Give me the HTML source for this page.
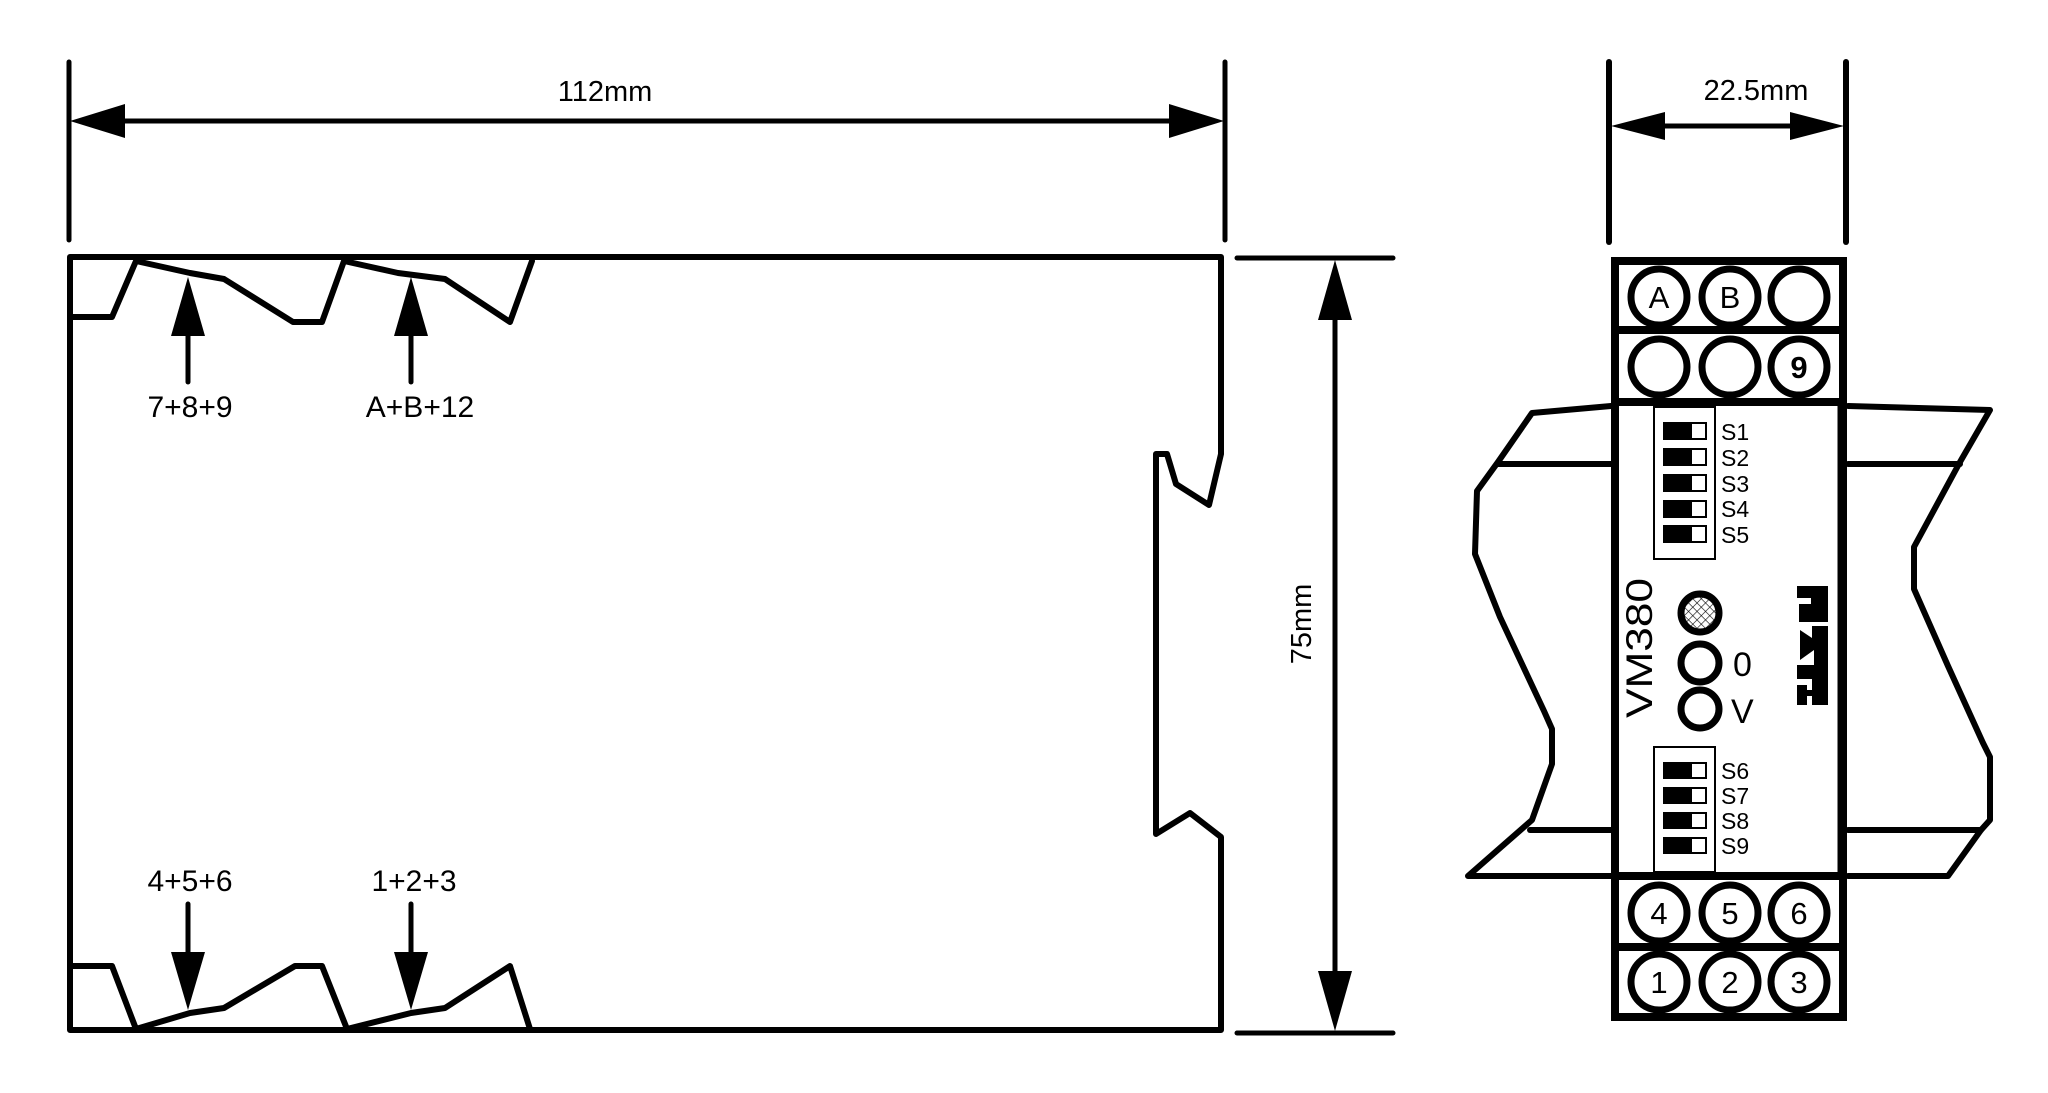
<!DOCTYPE html>
<html><head><meta charset="utf-8"><style>html,body{margin:0;padding:0;background:#fff}svg{display:block}</style></head>
<body>
<svg width="2048" height="1093" viewBox="0 0 2048 1093" xmlns="http://www.w3.org/2000/svg" font-family="Liberation Sans, sans-serif">
<defs>
<pattern id="h" width="6" height="6" patternUnits="userSpaceOnUse" patternTransform="rotate(45)">
<rect width="6" height="6" fill="#fff"/><path d="M0 0H6M0 0V6" stroke="#000" stroke-width="1.2"/></pattern>
</defs>
<g stroke="#000" fill="none" stroke-linecap="round" stroke-linejoin="round">
<line x1="69" y1="62" x2="69" y2="240" stroke-width="5"/>
<line x1="1225" y1="62" x2="1225" y2="240" stroke-width="5"/>
<line x1="120" y1="121" x2="1175" y2="121" stroke-width="5"/>
<path d="M70 257 H1221 V454 L1209 505 L1176 484 L1167 454 H1156 V834 L1190 813 L1221 837 V1030 H70 Z" stroke-width="6"/>
<path d="M72 317 H112 L136 261 L190 273 L224 279 L293 322 H322 L344 261 L398 273 L445 279 L510 322 L532 261" stroke-width="6"/>
<path d="M72 966 H112 L136 1029 L190 1013 L224 1008 L295 966 H322 L347 1029 L411 1013 L445 1008 L510 966 L530 1029" stroke-width="6"/>
<line x1="188" y1="330" x2="188" y2="382" stroke-width="5"/>
<line x1="411" y1="330" x2="411" y2="382" stroke-width="5"/>
<line x1="188" y1="904" x2="188" y2="960" stroke-width="5"/>
<line x1="411" y1="904" x2="411" y2="960" stroke-width="5"/>
<line x1="1237" y1="258" x2="1393" y2="258" stroke-width="5"/>
<line x1="1237" y1="1033" x2="1393" y2="1033" stroke-width="5"/>
<line x1="1335" y1="310" x2="1335" y2="980" stroke-width="5"/>
<line x1="1609" y1="62" x2="1609" y2="242" stroke-width="6"/>
<line x1="1846" y1="62" x2="1846" y2="242" stroke-width="6"/>
<line x1="1660" y1="126" x2="1795" y2="126" stroke-width="5"/>
<path d="M1611 406 L1532 413 L1498 462 L1477 491 L1475 554 L1500 617 L1544 711 L1552 729 V764 L1532 820 L1468 876 H1611" stroke-width="6"/>
<line x1="1498" y1="464" x2="1611" y2="464" stroke-width="6"/>
<line x1="1530" y1="830" x2="1611" y2="830" stroke-width="6"/>
<path d="M1848 406 L1990 410 L1960 462 L1914 547 V589 L1948 666 L1983 743 L1990 757 V820 L1981 830 L1948 876 H1848" stroke-width="6"/>
<line x1="1848" y1="464" x2="1960" y2="464" stroke-width="6"/>
<line x1="1848" y1="830" x2="1981" y2="830" stroke-width="6"/>
</g>
<g fill="#000">
<polygon points="70,121 125,104 125,138"/>
<polygon points="1224,121 1169,104 1169,138"/>
<polygon points="188,277 171,336 205,336"/>
<polygon points="411,277 394,336 428,336"/>
<polygon points="188,1010 171,952 205,952"/>
<polygon points="411,1010 394,952 428,952"/>
<polygon points="1335,260 1318,320 1352,320"/>
<polygon points="1335,1031 1318,971 1352,971"/>
<polygon points="1611,126 1665,112 1665,140"/>
<polygon points="1844,126 1790,112 1790,140"/>
</g>
<g stroke="#000" fill="none">
<rect x="1615" y="261" width="228" height="756" stroke-width="8" fill="#fff"/>
<line x1="1615" y1="330" x2="1843" y2="330" stroke-width="8"/>
<line x1="1615" y1="402" x2="1843" y2="402" stroke-width="8"/>
<line x1="1615" y1="876" x2="1843" y2="876" stroke-width="8"/>
<line x1="1615" y1="947" x2="1843" y2="947" stroke-width="8"/>
<line x1="1839" y1="406" x2="1839" y2="872" stroke-width="3"/>
<g stroke-width="7" fill="#fff">
<circle cx="1659" cy="297" r="28"/><circle cx="1730" cy="297" r="28"/><circle cx="1799" cy="297" r="28"/>
<circle cx="1659" cy="367" r="28"/><circle cx="1730" cy="367" r="28"/><circle cx="1799" cy="367" r="28"/>
<circle cx="1659" cy="913" r="28"/><circle cx="1730" cy="913" r="28"/><circle cx="1799" cy="913" r="28"/>
<circle cx="1659" cy="982" r="28"/><circle cx="1730" cy="982" r="28"/><circle cx="1799" cy="982" r="28"/>
</g>
<rect x="1654" y="407" width="61" height="152" stroke-width="2"/>
<rect x="1654" y="747" width="61" height="125" stroke-width="2"/>
<circle cx="1700" cy="613" r="19" stroke-width="7" fill="url(#h)"/>
<circle cx="1700" cy="663" r="19" stroke-width="7"/>
<circle cx="1700" cy="709" r="19" stroke-width="7"/>
</g>
<g fill="#000" stroke="#000" stroke-width="2">
<rect x="1664" y="423" width="42" height="16" fill="#fff"/><rect x="1664" y="423" width="27" height="16"/>
<rect x="1664" y="449" width="42" height="16" fill="#fff"/><rect x="1664" y="449" width="27" height="16"/>
<rect x="1664" y="475" width="42" height="16" fill="#fff"/><rect x="1664" y="475" width="27" height="16"/>
<rect x="1664" y="501" width="42" height="16" fill="#fff"/><rect x="1664" y="501" width="27" height="16"/>
<rect x="1664" y="526" width="42" height="16" fill="#fff"/><rect x="1664" y="526" width="27" height="16"/>
<rect x="1664" y="763" width="42" height="15" fill="#fff"/><rect x="1664" y="763" width="27" height="15"/>
<rect x="1664" y="788" width="42" height="15" fill="#fff"/><rect x="1664" y="788" width="27" height="15"/>
<rect x="1664" y="813" width="42" height="15" fill="#fff"/><rect x="1664" y="813" width="27" height="15"/>
<rect x="1664" y="838" width="42" height="15" fill="#fff"/><rect x="1664" y="838" width="27" height="15"/>
</g>
<g fill="#000">
<rect x="1797" y="586" width="31" height="12"/><rect x="1811" y="586" width="17" height="22"/>
<rect x="1799" y="604" width="12" height="10"/><rect x="1799" y="608" width="29" height="14"/>
<polygon points="1800,630 1812,638 1812,626 1828,626 1828,670 1814,670 1814,650 1800,660"/>
<rect x="1797" y="665" width="31" height="14"/><rect x="1812" y="665" width="16" height="40"/>
<rect x="1797" y="685" width="10" height="20"/><rect x="1797" y="690" width="31" height="6"/>
</g>
<g fill="#000">
<text x="605" y="101" font-size="29" text-anchor="middle">112mm</text>
<text x="190" y="417" font-size="30" text-anchor="middle">7+8+9</text>
<text x="420" y="417" font-size="30" text-anchor="middle">A+B+12</text>
<text x="190" y="891" font-size="30" text-anchor="middle">4+5+6</text>
<text x="414" y="891" font-size="30" text-anchor="middle">1+2+3</text>
<text transform="translate(1311,624) rotate(-90)" font-size="29" text-anchor="middle">75mm</text>
<text x="1756" y="100" font-size="29" text-anchor="middle">22.5mm</text>
<g font-size="31" text-anchor="middle">
<text x="1659" y="308">A</text><text x="1730" y="308">B</text><text x="1799" y="378" font-weight="bold">9</text>
<text x="1659" y="924">4</text><text x="1730" y="924">5</text><text x="1799" y="924">6</text>
<text x="1659" y="993">1</text><text x="1730" y="993">2</text><text x="1799" y="993">3</text>
</g>
<g font-size="23">
<text x="1721" y="440">S1</text><text x="1721" y="466">S2</text><text x="1721" y="492">S3</text><text x="1721" y="517">S4</text><text x="1721" y="543">S5</text>
<text x="1721" y="779">S6</text><text x="1721" y="804">S7</text><text x="1721" y="829">S8</text><text x="1721" y="854">S9</text>
</g>
<text transform="translate(1652,718) rotate(-90)" font-size="37" textLength="140" lengthAdjust="spacingAndGlyphs">VM380</text>
<text x="1733" y="676" font-size="34">0</text>
<text x="1731" y="723" font-size="34">V</text>
</g>
</svg>
</body></html>
